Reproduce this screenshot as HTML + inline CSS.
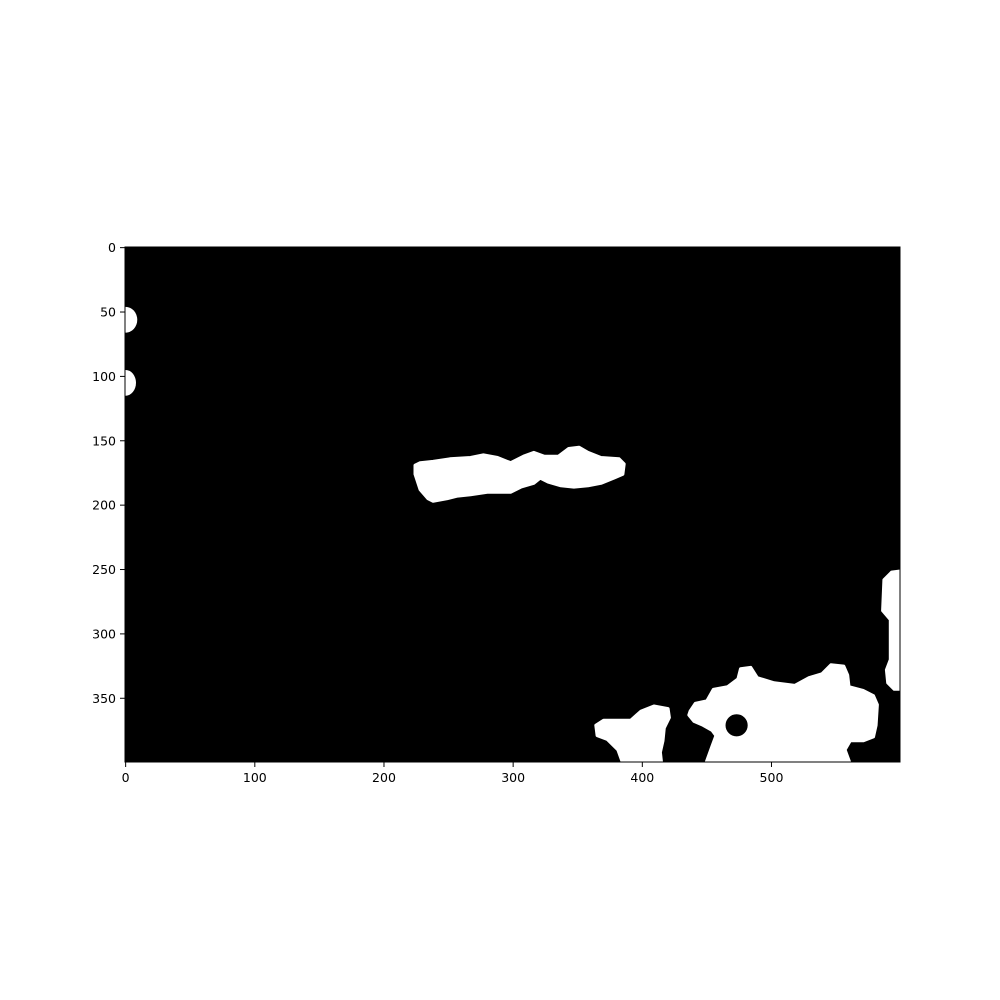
<!DOCTYPE html>
<html><head><meta charset="utf-8"><style>
body{margin:0;background:#fff;}
svg{display:block;font-family:"DejaVu Sans","Liberation Sans",sans-serif;}
</style></head><body>
<svg id="chart" width="1000" height="1000" xmlns="http://www.w3.org/2000/svg">
<defs><clipPath id="clip"><rect x="125" y="247" width="775" height="515"/></clipPath></defs>
<rect x="0" y="0" width="1000" height="1000" fill="#fff"/>
<rect x="125" y="247" width="775" height="515" fill="#000"/>
<g id="blobs" clip-path="url(#clip)"></g>
<rect x="125" y="247" width="775" height="515" fill="none" stroke="#000" stroke-width="1"/>
<g id="axes"></g>
</svg>
<script>
const xTicks=[0,100,200,300,400,500];
const yTicks=[0,50,100,150,200,250,300,350];
const blobCenter=[[224,169],[228,167],[238,166],[251,164],[267,163],[277,161],[288,163],[298,167],[308,162],[316,159],[324,162],[335,162],[343,156],[351,155],[358,159],[368,163],[382,164],[386,168],[385,176],[378,179],[368,183],[358,185],[347,186],[337,185],[327,182],[321,179],[316,183],[306,186],[298,190],[280,190],[267,192],[257,193],[249,195],[238,197],[234,195],[228,188],[224,176]];
const blobBottomLeft=[[364,371],[370,367],[381,367],[391,367],[399,360],[409,356],[420,358],[421,365],[417,373],[416,383],[414,392],[415,401],[385,401],[381,390],[373,382],[365,379]];
const blobBottomRight=[[437,360],[441,354],[450,352],[455,343],[466,341],[474,335],[476,327],[484,326],[489,334],[502,338],[518,340],[529,334],[539,331],[546,324],[556,325],[559,332],[560,341],[571,344],[579,348],[582,355],[581,371],[579,380],[571,383],[561,383],[557,390],[561,401],[449,401],[454,387],[457,379],[454,375],[447,371],[440,368],[436,363]];
const blobRightEdge=[[601,251],[593,252],[587,258],[586,282],[592,289],[592,320],[589,328],[590,338],[595,343],[601,343]];
const holes=[[473,371,8]];
const edgeEllipses=[[0,56,9,10],[0,105,8,10]];
const sx=c=>125+(c+0.5)*775/600;
const sy=r=>247+(r+0.5)*515/400;
const ns="http://www.w3.org/2000/svg";
const bg=document.getElementById('blobs');
function poly(pts,name){
  const p=document.createElementNS(ns,'polygon');
  p.setAttribute('points',pts.map(q=>sx(q[0]).toFixed(1)+','+sy(q[1]).toFixed(1)).join(' '));
  p.setAttribute('fill','#fff');
  p.setAttribute('stroke','#fff');
  p.setAttribute('stroke-width','3');
  p.setAttribute('stroke-linejoin','round');
  
  
  bg.appendChild(p);
}
poly(blobCenter,'blob-center');
poly(blobBottomLeft,'blob-bottom-left');
poly(blobBottomRight,'blob-bottom-right');
poly(blobRightEdge,'blob-right-edge');
holes.forEach(h=>{
  const c=document.createElementNS(ns,'circle');
  c.setAttribute('cx',sx(h[0]));c.setAttribute('cy',sy(h[1]));c.setAttribute('r',h[2]*775/600);
  c.setAttribute('fill','#000');
  c.setAttribute('stroke','#000');
  c.setAttribute('stroke-width','1.5');
  
  
  bg.appendChild(c);
});
edgeEllipses.forEach(e=>{
  const el=document.createElementNS(ns,'ellipse');
  el.setAttribute('cx',sx(e[0]));el.setAttribute('cy',sy(e[1]));
  el.setAttribute('rx',e[2]*775/600);el.setAttribute('ry',e[3]*515/400);
  el.setAttribute('fill','#fff');
  
  
  bg.appendChild(el);
});
const ax=document.getElementById('axes');
xTicks.forEach(t=>{
  const x=sx(t);
  const l=document.createElementNS(ns,'line');
  l.setAttribute('x1',x);l.setAttribute('x2',x);l.setAttribute('y1',762);l.setAttribute('y2',767);l.setAttribute('stroke','#000');
  
  
  ax.appendChild(l);
  const tx=document.createElementNS(ns,'text');
  tx.setAttribute('x',x);tx.setAttribute('y',782);tx.setAttribute('text-anchor','middle');tx.setAttribute('font-size','12.5');
  tx.textContent=t;
  
  
  ax.appendChild(tx);
});
yTicks.forEach(t=>{
  const y=sy(t);
  const l=document.createElementNS(ns,'line');
  l.setAttribute('x1',120);l.setAttribute('x2',125);l.setAttribute('y1',y);l.setAttribute('y2',y);l.setAttribute('stroke','#000');
  
  
  ax.appendChild(l);
  const tx=document.createElementNS(ns,'text');
  tx.setAttribute('x',116);tx.setAttribute('y',y+4.5);tx.setAttribute('text-anchor','end');tx.setAttribute('font-size','12.5');
  tx.textContent=t;
  
  
  ax.appendChild(tx);
});
</script>
</body></html>
